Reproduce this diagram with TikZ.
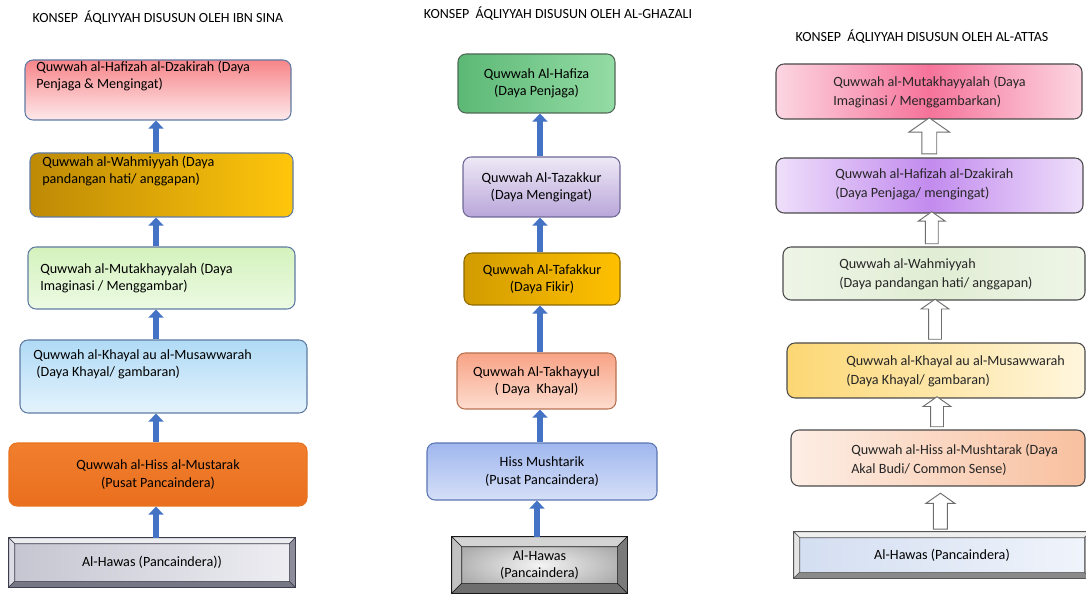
\documentclass[tikz,border=0pt]{standalone}
\usepackage{fontspec}
\setmainfont{Carlito}
\usetikzlibrary{arrows.meta,shapes.arrows,calc}

\definecolor{arrowblue}{HTML}{4472C4}
\definecolor{arrowgray}{HTML}{6E6E6E}
\definecolor{edgeslate}{HTML}{5F7BA3}
\definecolor{edgedark}{HTML}{4A4A4A}
% Ibn Sina
\definecolor{hafizahtop}{HTML}{F78589}
\definecolor{hafizahbot}{HTML}{FDE9EB}
\definecolor{wahmleft}{HTML}{BE8A05}
\definecolor{wahmright}{HTML}{FFC60C}
\definecolor{mutaktop}{HTML}{D4F2BD}
\definecolor{mutakbot}{HTML}{ECFAE3}
\definecolor{khayaltop}{HTML}{B0DAF5}
\definecolor{khayalbot}{HTML}{E4F3FD}
\definecolor{hissedge}{HTML}{E8731F}
\definecolor{hisstop}{HTML}{F17F2E}
\definecolor{hissbot}{HTML}{E96F1E}
\definecolor{hawasA}{HTML}{C4C5D0}
\definecolor{hawasB}{HTML}{EEEEF3}
\definecolor{bevAtop}{HTML}{ECECF1}
\definecolor{bevAleft}{HTML}{DCDCE4}
\definecolor{bevAright}{HTML}{8C8C9A}
\definecolor{bevAbot}{HTML}{777786}
\definecolor{bevAedge}{HTML}{3C3C4A}
% Al-Ghazali
\definecolor{hafizaedge}{HTML}{506856}
\definecolor{hafizaleft}{HTML}{5CB875}
\definecolor{hafizaright}{HTML}{94DCA5}
\definecolor{tazakedge}{HTML}{706896}
\definecolor{tazaktop}{HTML}{EEE9F6}
\definecolor{tazakbot}{HTML}{B9A6DA}
\definecolor{tafakedge}{HTML}{8C6A00}
\definecolor{tafakleft}{HTML}{D29C00}
\definecolor{tafakright}{HTML}{FFC000}
\definecolor{takhedge}{HTML}{B8714F}
\definecolor{takhtop}{HTML}{F8A385}
\definecolor{takhbot}{HTML}{FDDCCF}
\definecolor{mushedge}{HTML}{5B75B3}
\definecolor{mushtop}{HTML}{A0B7EE}
\definecolor{mushbot}{HTML}{D5DFF7}
\definecolor{hawasin}{HTML}{F4F4F4}
\definecolor{hawasout}{HTML}{ADADAD}
\definecolor{bevBtop}{HTML}{D4D4D4}
\definecolor{bevBleft}{HTML}{C2C2C2}
\definecolor{bevBright}{HTML}{7A7A7A}
\definecolor{bevBbot}{HTML}{6E6E6E}
\definecolor{bevBedge}{HTML}{1A1A1A}
% Al-Attas
\definecolor{pinkside}{HTML}{FCD6E2}
\definecolor{pinkmid}{HTML}{F6739A}
\definecolor{purpside}{HTML}{EEDFFA}
\definecolor{purpmid}{HTML}{C28BEE}
\definecolor{greenside}{HTML}{EEF5E7}
\definecolor{greenmid}{HTML}{E1EDD4}
\definecolor{yellowleft}{HTML}{FCD773}
\definecolor{yellowright}{HTML}{FFF6DE}
\definecolor{peachleft}{HTML}{FDEEE5}
\definecolor{peachright}{HTML}{F8C09F}
\definecolor{hawasC}{HTML}{D3DEF1}
\definecolor{hawasD}{HTML}{F0F4FB}
\definecolor{bevCtop}{HTML}{EFEFEF}
\definecolor{bevCleft}{HTML}{E4E4E4}
\definecolor{bevCright}{HTML}{9B9B9B}
\definecolor{bevCbot}{HTML}{8A8A8A}
\definecolor{bevCedge}{HTML}{555555}

\tikzset{
  daya/.style={rectangle, rounded corners=6pt, line width=0.8pt, inner sep=0pt,
               align=center, font=\fontsize{10.6}{13}\selectfont},
  dayatext/.style={anchor=west, inner sep=0pt, align=left, font=\fontsize{10.6}{12.75}\selectfont},
  dayatextr/.style={anchor=west, inner sep=0pt, align=left, font=\fontsize{10.6}{14.25}\selectfont, text=black!85},
  hawas/.style={rectangle, inner sep=0pt, align=center, font=\fontsize{10.6}{13}\selectfont},
  judul/.style={inner sep=0pt, font=\fontsize{10.5}{12}\selectfont},
  bluearrow/.style={draw=arrowblue, line width=5pt, -{Triangle[length=6pt, width=11pt]}},
  openarrow/.style={single arrow, draw=arrowgray, fill=white, line width=0.7pt, rotate=90,
                    inner sep=0pt, minimum width=0pt, text depth=0pt, single arrow tip angle=110}
}

% bevelled frame round a node: name, inset, top, left, right, bottom, edge
\newcommand{\bevelsides}[7]{%
  \filldraw[fill=#3, draw=#7, line width=0.4pt] (#1.north west) -- (#1.north east) -- ($(#1.north east)+(-#2,#2)$) -- ($(#1.north west)+(#2,#2)$) -- cycle;
  \filldraw[fill=#4, draw=#7, line width=0.4pt] (#1.north west) -- ($(#1.north west)+(#2,#2)$) -- ($(#1.south west)+(#2,-#2)$) -- (#1.south west) -- cycle;
  \filldraw[fill=#5, draw=#7, line width=0.4pt] (#1.north east) -- ($(#1.north east)+(-#2,#2)$) -- ($(#1.south east)+(-#2,-#2)$) -- (#1.south east) -- cycle;
  \filldraw[fill=#6, draw=#7, line width=0.4pt] (#1.south west) -- ($(#1.south west)+(#2,-#2)$) -- ($(#1.south east)+(-#2,-#2)$) -- (#1.south east) -- cycle;
  \draw[#7, line width=0.9pt] (#1.north west) rectangle (#1.south east);
}

\begin{document}
\begin{tikzpicture}[x=0.75pt, y=-0.75pt]
\useasboundingbox (0,0) rectangle (1086,595);

%% IBN SINA
\node [judul] (tibn) at (158,18) {KONSEP\ \ ÁQLIYYAH DISUSUN OLEH IBN SINA};

\node [daya, draw=edgeslate, top color=hafizahtop, bottom color=hafizahbot, minimum width=199.5pt, minimum height=45pt] (l1) at (158,90) {};
\node [daya, draw=edgeslate, left color=wahmleft, right color=wahmright, minimum width=197.25pt, minimum height=48pt] (l2) at (161.5,185) {};
\node [daya, draw=edgeslate, top color=mutaktop, bottom color=mutakbot, minimum width=200.25pt, minimum height=46.5pt] (l3) at (161.5,278) {};
\node [daya, draw=edgeslate, top color=khayaltop, bottom color=khayalbot, minimum width=215.25pt, minimum height=54.75pt] (l4) at (163.5,376.5) {};
\node [daya, draw=hissedge, top color=hisstop, bottom color=hissbot, minimum width=223.5pt, minimum height=47.25pt] (l5) at (158,474.5) {Quwwah al-Hiss al-Mustarak\\(Pusat Pancaindera)};
\node [hawas, left color=hawasA, right color=hawasB, minimum width=214.5pt, minimum height=36.75pt] (l6) at (152,562.5) {Al-Hawas (Pancaindera))};
\bevelsides{l6}{6}{bevAtop}{bevAleft}{bevAright}{bevAbot}{bevAedge}

\node [dayatext] (l1t) at (36,76.5) {Quwwah al-Hafizah al-Dzakirah (Daya\\Penjaga \& Mengingat)};
\node [dayatext] (l2t) at (42,171.5) {Quwwah al-Wahmiyyah (Daya\\pandangan hati/ anggapan)};
\node [dayatext] (l3t) at (40,278) {Quwwah al-Mutakhayyalah (Daya\\Imaginasi / Menggambar)};
\node [dayatext] (l4t) at (33,364.5) {Quwwah al-Khayal au al-Musawwarah\\\ (Daya Khayal/ gambaran)};

\coordinate (lax) at (156,0);
\draw [bluearrow] (l2.north -| lax) -- (l1.south -| lax);
\draw [bluearrow] (l3.north -| lax) -- (l2.south -| lax);
\draw [bluearrow] (l4.north -| lax) -- (l3.south -| lax);
\draw [bluearrow] (l5.north -| lax) -- (l4.south -| lax);
\draw [bluearrow] (l6.north -| lax) -- (l5.south -| lax);

%% AL-GHAZALI
\node [judul] (tghazali) at (558,14) {KONSEP\ \ ÁQLIYYAH DISUSUN OLEH AL-GHAZALI};

\node [daya, draw=hafizaedge, left color=hafizaleft, right color=hafizaright, minimum width=117.75pt, minimum height=44.25pt] (m1) at (536.5,83.5) {Quwwah Al-Hafiza\\(Daya Penjaga)};
\node [daya, draw=tazakedge, top color=tazaktop, bottom color=tazakbot, minimum width=117.75pt, minimum height=45pt] (m2) at (541.5,187) {Quwwah Al-Tazakkur\\(Daya Mengingat)};
\node [daya, draw=tafakedge, left color=tafakleft, right color=tafakright, minimum width=117pt, minimum height=39pt] (m3) at (542,279) {Quwwah Al-Tafakkur\\(Daya Fikir)};
\node [daya, draw=takhedge, top color=takhtop, bottom color=takhbot, minimum width=119.25pt, minimum height=42pt] (m4) at (536.5,381) {Quwwah Al-Takhayyul\\( Daya\ \ Khayal)};
\node [daya, draw=mushedge, top color=mushtop, bottom color=mushbot, minimum width=172.5pt, minimum height=42.75pt] (m5) at (542,471.5) {Hiss Mushtarik\\(Pusat Pancaindera)};
\node [hawas, inner color=hawasin, outer color=hawasout, minimum width=131.25pt, minimum height=42pt] (m6) at (539.5,565) {Al-Hawas\\(Pancaindera)};
\bevelsides{m6}{10}{bevBtop}{bevBleft}{bevBright}{bevBbot}{bevBedge}

\coordinate (max) at (540,0);
\draw [bluearrow] (m2.north -| max) -- (m1.south -| max);
\draw [bluearrow] (m3.north -| max) -- (m2.south -| max);
\draw [bluearrow] (m4.north -| max) -- (m3.south -| max);
\draw [bluearrow] (m5.north -| max) -- (m4.south -| max);
\draw [bluearrow] ([xshift=-2.25pt]m6.north -| max) -- ([xshift=-2.25pt]m5.south -| max);

%% AL-ATTAS
\node [judul] (tattas) at (922,37) {KONSEP\ \ ÁQLIYYAH DISUSUN OLEH AL-ATTAS};

\node [daya, draw=edgedark, left color=pinkside, right color=pinkside, middle color=pinkmid, minimum width=229.5pt, minimum height=41.25pt] (r1) at (929,91.5) {};
\node [daya, draw=edgedark, left color=purpside, right color=purpside, middle color=purpmid, minimum width=230.25pt, minimum height=41.25pt] (r2) at (929.5,185.5) {};
\node [daya, draw=edgedark, left color=greenside, right color=greenside, middle color=greenmid, minimum width=226.5pt, minimum height=39.75pt] (r3) at (934,273.5) {};
\node [daya, draw=edgedark, left color=yellowleft, right color=yellowright, minimum width=223.5pt, minimum height=41.25pt] (r4) at (936,370.5) {};
\node [daya, draw=edgedark, left color=peachleft, right color=peachright, minimum width=220.5pt, minimum height=42pt] (r5) at (938,458) {};
\node [hawas, left color=hawasC, right color=hawasD, minimum width=222pt, minimum height=34.5pt] (r6) at (942,555) {Al-Hawas (Pancaindera)};
\bevelsides{r6}{6}{bevCtop}{bevCleft}{bevCright}{bevCbot}{bevCedge}

\node [dayatextr] (r1t) at (833,92) {Quwwah al-Mutakhayyalah (Daya\\Imaginasi / Menggambarkan)};
\node [dayatextr] (r2t) at (835,184) {Quwwah al-Hafizah al-Dzakirah\\(Daya Penjaga/ mengingat)};
\node [dayatextr] (r3t) at (839,274.5) {Quwwah al-Wahmiyyah\\(Daya pandangan hati/ anggapan)};
\node [dayatextr] (r4t) at (846,371) {Quwwah al-Khayal au al-Musawwarah\\(Daya Khayal/ gambaran)};
\node [dayatextr] (r5t) at (851,460) {Quwwah al-Hiss al-Mushtarak (Daya\\Akal Budi/ Common Sense)};

\path (r2.north) -- node [openarrow, minimum height=27pt, text height=10.5pt, single arrow head extend=9.75pt] {} (r1.south);
\path (r3.north) -- node [openarrow, minimum height=24pt, text height=9pt, single arrow head extend=5.25pt] {} (r2.south);
\path (r4.north) -- node [openarrow, minimum height=30pt, text height=9pt, single arrow head extend=5.6pt] {} (r3.south);
\path (r5.north) -- node [openarrow, minimum height=22.5pt, text height=9pt, single arrow head extend=5.6pt] {} (r4.south);
\path (r6.north) -- node [openarrow, pos=0.4, minimum height=27pt, text height=9.75pt, single arrow head extend=5.6pt] {} (r5.south);

\end{tikzpicture}
\end{document}
